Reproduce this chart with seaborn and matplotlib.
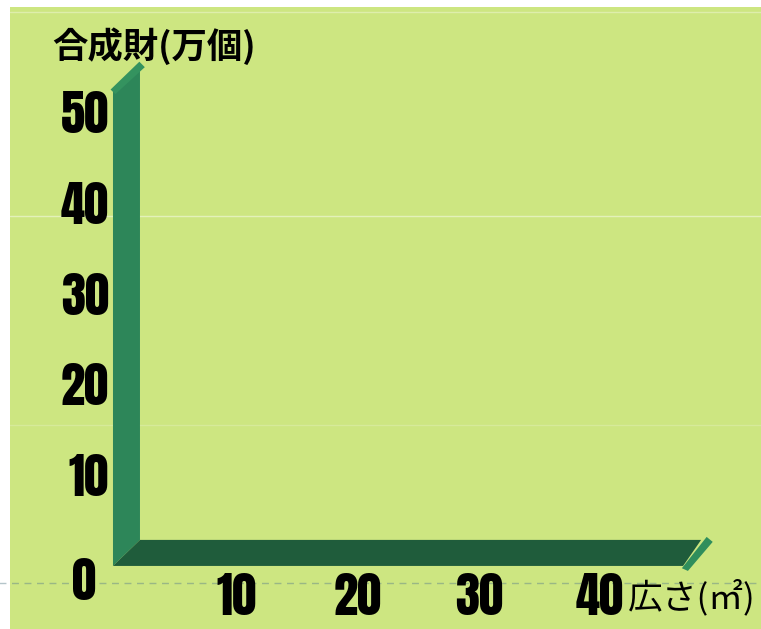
import numpy as np
import matplotlib
matplotlib.use("Agg")
import matplotlib.pyplot as plt
from matplotlib.patches import Polygon
import seaborn as sns

# ---- chart content ----
X_TICKS = [10, 20, 30, 40]
Y_TICKS = [10, 20, 30, 40, 50]
ORIGIN_LABEL = "0"
X_LABEL = "広さ(㎡)"
Y_LABEL = "合成財(万個)"

# ---- style ----
BG = "#cde681"
WALL = "#2d8659"
FLOOR = "#1f5c3b"
CAP = "#2f8e5c"
NUM_FONT = ["Anton", "DejaVu Sans"]
CJK_FONT = ["Noto Sans CJK JP", "DejaVu Sans"]
NUM_SIZE = 35

XLIM = (-8.76, 53.3)
YLIM = (-6.95, 61.6)
DX, DY = 2.23, 2.87       # depth of the 3d axis bars (data units)
X0 = -0.25                # front edge of the wall
X_END = 46.86             # front end of the floor
Y_TOP = 52.6              # front top of the wall

sns.set_theme(style="white", rc={"axes.facecolor": BG, "figure.facecolor": "white"})
plt.rcParams["font.family"] = CJK_FONT

fig = plt.figure(figsize=(7.61, 6.29), dpi=100)
ax = fig.add_axes([10 / 761, 0, 751 / 761, 622 / 629])
ax.set_xlim(*XLIM)
ax.set_ylim(*YLIM)

# faint decorative lines across the panel
for yv, c, a in [(61.1, "white", 0.35), (38.6, "white", 0.45), (15.5, "white", 0.2)]:
    ax.axhline(yv, color=c, alpha=a, lw=1, zorder=0)
ax.plot([-12, XLIM[1]], [-1.87, -1.87], color="#5a7f8a", alpha=0.45, lw=1,
        ls=(0, (5, 4)), clip_on=False, zorder=0)

# 3d-ish axis bars
wall = Polygon([(X0, 0), (X0 + DX, DY), (X0 + DX, Y_TOP + DY), (X0, Y_TOP)],
               closed=True, fc=WALL, ec="none", zorder=2)
floor = Polygon([(X0, 0), (X0 + DX, DY), (X_END + 1.49, DY), (X_END, 0)],
                closed=True, fc=FLOOR, ec="none", zorder=3)
wall_cap = Polygon([(X0 - 0.2, Y_TOP - 0.1), (X0 + DX - 0.05, Y_TOP + DY + 0.1),
                    (X0 + DX + 0.4, Y_TOP + DY - 0.5), (X0 + 0.2, Y_TOP - 0.6)],
                   closed=True, fc="#34935f", ec="none", zorder=4)
floor_cap = Polygon([(X_END - 0.1, -0.25), (X_END + 1.95, 3.2),
                     (X_END + 2.45, 2.65), (X_END + 0.4, -0.55)],
                    closed=True, fc=CAP, ec="none", zorder=4)
for p in (wall, floor, wall_cap, floor_cap):
    ax.add_patch(p)

# ticks
ax.set_xticks(X_TICKS)
ax.set_yticks(Y_TICKS)
ax.spines["left"].set_position(("data", X0))
ax.spines["bottom"].set_position(("data", 0))
sns.despine(ax=ax, left=True, bottom=True)
ax.tick_params(axis="both", length=0)
ax.tick_params(axis="x", pad=5)
ax.tick_params(axis="y", pad=3)
for lab in ax.get_xticklabels() + ax.get_yticklabels():
    lab.set_family(NUM_FONT)
    lab.set_fontsize(NUM_SIZE)
    lab.set_color("black")
ax.annotate(ORIGIN_LABEL, xy=(X0, 0), xytext=(-29, -16), textcoords="offset pixels",
            ha="center", va="center", fontsize=NUM_SIZE,
            family=NUM_FONT, color="black")

# axis titles
ax.set_xlabel(X_LABEL, fontsize=25, color="black", ha="left", va="center")
ax.xaxis.set_label_coords((628 - 10) / 751, (629 - 598) / 622)
ax.set_ylabel(Y_LABEL, fontsize=25.5, fontweight="bold", color="black",
              rotation=0, ha="left", va="center")
ax.yaxis.set_label_coords((52 - 10) / 751, (629 - 46) / 622)

fig.savefig("out.png", dpi=100)
